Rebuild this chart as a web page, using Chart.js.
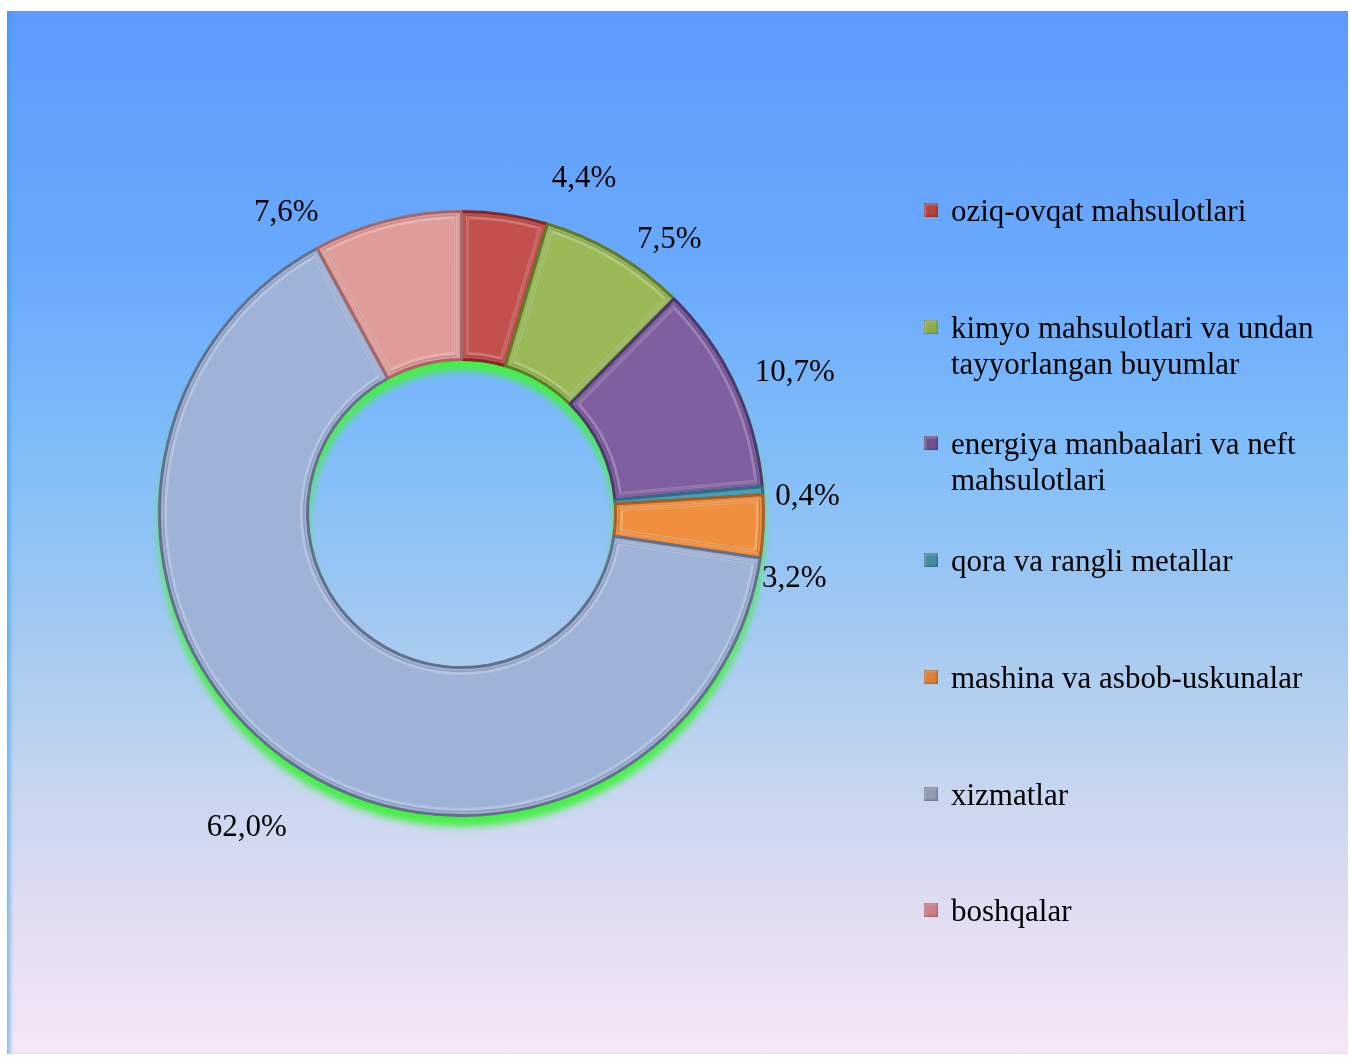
<!DOCTYPE html>
<html>
<head>
<meta charset="utf-8">
<script src="https://cdn.jsdelivr.net/npm/chart.js@4.4.1/dist/chart.umd.min.js"></script>
<style>
  html, body { margin: 0; padding: 0; background: #fff; }
  #frame {
    position: absolute; left: 7px; top: 11px; width: 1341px; height: 1043px;
    background: linear-gradient(to bottom, #5c9bfc 0%, #6aaafc 25%, #80bdf9 42%, #a4caf0 60%, #c8d6ef 75%, #e3def2 88%, #f7e6f6 100%);
    box-shadow: inset 5px 0 4px -2px rgba(40,160,240,0.6);
  }
  #chart { position: absolute; left: 0; top: 0; }
  .leg { position: absolute; left: 951px; font: 31px "Liberation Serif", "Times New Roman", serif; line-height: 36px; color: #000; white-space: nowrap; }
  .mk { position: absolute; left: -27px; top: 10px; width: 14px; height: 14px; box-shadow: inset 0 0 3px rgba(0,0,0,0.5), inset 2px 2px 2px rgba(255,255,255,0.35); }
</style>
</head>
<body>
<div id="frame"></div>
<canvas id="chart" width="1350" height="1057"></canvas>
<div id="legend"></div>
<script>
const categories = [
  'oziq-ovqat mahsulotlari',
  ['kimyo mahsulotlari va undan', 'tayyorlangan buyumlar'],
  ['energiya manbaalari va neft', 'mahsulotlari'],
  'qora va rangli metallar',
  'mashina va asbob-uskunalar',
  'xizmatlar',
  'boshqalar'
];
const shares = [4.4, 7.5, 10.7, 0.4, 3.2, 62.0, 7.6];
const shareLabels = ['4,4%', '7,5%', '10,7%', '0,4%', '3,2%', '62,0%', '7,6%'];

const fills = ['#c4504e', '#99b956', '#7f5fa0', '#4b9cb5', '#f0903e', '#9fb2d8', '#e09c9b'];
const edges = ['#7e2a28', '#5f7a2c', '#4c386b', '#2c7088', '#a85f26', '#62708a', '#a46766'];
const markers = ['#b8423f', '#8fae49', '#70508f', '#3f8ca5', '#e07f30', '#8f9ab0', '#cf7f86'];

// label offsets from the radial spot (px)
const labelNudge = [[73, 7], [32, 23], [21, 6], [2, 9], [-12, 51], [-17, 32], [-90, 34]];

const ringGlow = {
  id: 'ringGlow',
  beforeDatasetsDraw(chart) {
    const arc = chart.getDatasetMeta(0).data[0];
    if (!arc) return;
    const {x, y, innerRadius, outerRadius} = arc.getProps(['x', 'y', 'innerRadius', 'outerRadius'], true);
    const c = chart.ctx;
    c.save();
    c.shadowColor = 'rgba(70,240,70,1)';
    c.shadowBlur = 7;
    c.shadowOffsetY = 10;
    c.beginPath();
    c.arc(x, y, outerRadius + 1, 0, Math.PI * 2);
    c.arc(x, y, innerRadius - 1, 0, Math.PI * 2, true);
    c.fillStyle = '#8a9ab5';
    c.fill('evenodd');
    c.restore();
  }
};

// light inner rim on each slice, like a bevel
const bevel = {
  id: 'bevel',
  afterDatasetsDraw(chart) {
    const c = chart.ctx;
    c.save();
    chart.getDatasetMeta(0).data.forEach((a) => {
      const p = a.getProps(['x', 'y', 'startAngle', 'endAngle', 'innerRadius', 'outerRadius'], true);
      const R = p.outerRadius - 6, r = p.innerRadius + 6;
      const dO = 6 / R, dI = 6 / r;
      if (p.endAngle - p.startAngle < 2 * dI + 0.01) return;
      c.beginPath();
      c.arc(p.x, p.y, R, p.startAngle + dO, p.endAngle - dO);
      c.arc(p.x, p.y, r, p.endAngle - dI, p.startAngle + dI, true);
      c.closePath();
      c.strokeStyle = 'rgba(255,255,255,0.22)';
      c.lineWidth = 3;
      c.stroke();
      c.beginPath();
      c.arc(p.x, p.y, R + 2, p.startAngle + dO, p.endAngle - dO);
      c.arc(p.x, p.y, r - 2, p.endAngle - dI, p.startAngle + dI, true);
      c.closePath();
      c.strokeStyle = 'rgba(0,0,0,0.12)';
      c.lineWidth = 1.5;
      c.stroke();
    });
    c.restore();
  }
};

const outsideLabels = {
  id: 'outsideLabels',
  afterDatasetsDraw(chart) {
    const c = chart.ctx;
    c.save();
    c.font = '31px "Liberation Serif", "Times New Roman", serif';
    c.fillStyle = '#000';
    c.textAlign = 'center';
    c.textBaseline = 'middle';
    chart.getDatasetMeta(0).data.forEach((a, i) => {
      const p = a.getProps(['x', 'y', 'startAngle', 'endAngle', 'outerRadius'], true);
      const mid = (p.startAngle + p.endAngle) / 2;
      const r = p.outerRadius + 43;
      const tx = p.x + Math.cos(mid) * r + labelNudge[i][0];
      const ty = p.y + Math.sin(mid) * r + labelNudge[i][1];
      c.fillText(shareLabels[i], tx, ty);
    });
    c.restore();
  }
};

new Chart(document.getElementById('chart'), {
  type: 'doughnut',
  data: {
    labels: categories,
    datasets: [{
      data: shares,
      backgroundColor: fills,
      borderColor: edges,
      borderWidth: 3
    }]
  },
  options: {
    responsive: false,
    animation: false,
    cutout: '51%',
    layout: { padding: { left: 158, top: 210, right: 585, bottom: 240 } },
    plugins: {
      legend: { display: false },
      tooltip: { enabled: false }
    }
  },
  plugins: [ringGlow, bevel, outsideLabels]
});

// legend on the right
const legend = document.getElementById('legend');
categories.forEach((name, i) => {
  const d = document.createElement('div');
  d.className = 'leg';
  d.style.top = (193 + i * 116.7) + 'px';
  d.innerHTML = (Array.isArray(name) ? name.join('<br>') : name) +
    '<span class="mk" style="background:' + markers[i] + '"></span>';
  legend.appendChild(d);
});
</script>
</body>
</html>
